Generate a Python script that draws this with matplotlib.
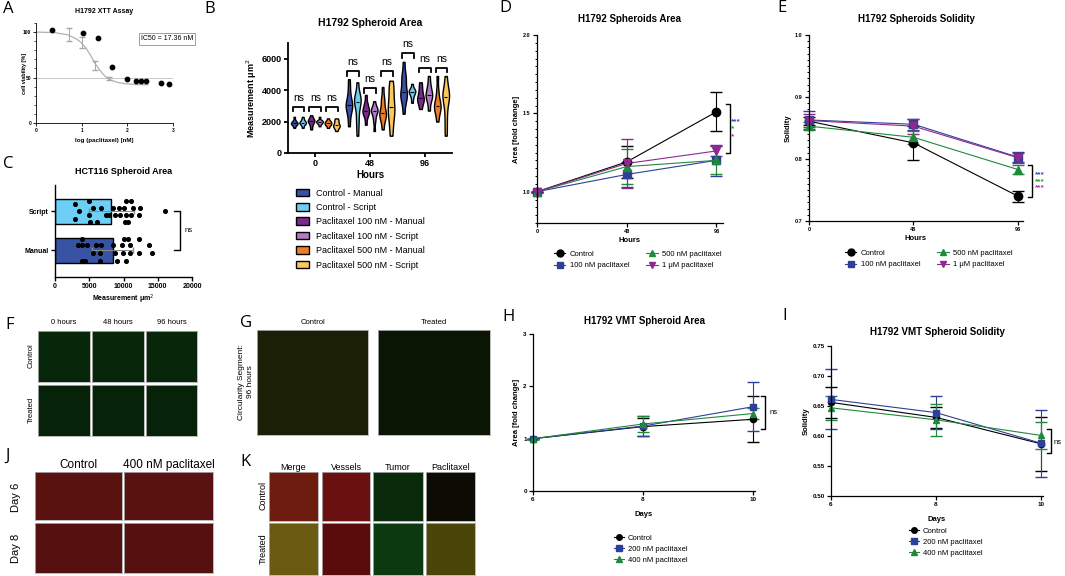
import matplotlib
matplotlib.use("Agg")
import matplotlib.pyplot as plt
from matplotlib.lines import Line2D
from matplotlib.patches import Patch
from matplotlib.ticker import MultipleLocator

plt.rcParams['font.family'] = ['Liberation Sans', 'DejaVu Sans']

# ---------------- data ----------------
# A: XTT assay
a_x = [0.34, 1.04, 1.35, 1.67, 1.99, 2.18, 2.31, 2.41, 2.74, 2.92]
a_y = [102.6, 98.9, 93, 61.3, 48.3, 46.1, 46.1, 46.1, 43.5, 42.4]
a_err_x = [0.72, 1.0, 1.3, 1.6]
a_err_y = [97, 89, 63, 49]
a_err_e = [7, 6, 5, 2]
a_fit_x = [0, 0.4, 0.7, 0.9, 1.0, 1.1, 1.2, 1.3, 1.4, 1.5, 1.6, 1.7, 1.8, 2.0, 2.2, 2.45]
a_fit_y = [100, 99.5, 97, 92, 88, 82, 74, 65, 58, 52, 48, 46, 44.5, 43, 42.3, 42]

# B: spheroid area violins (um^2)
b_labels = ["Control - Manual", "Control - Script", "Paclitaxel 100 nM - Manual",
            "Paclitaxel 100 nM - Script", "Paclitaxel 500 nM - Manual",
            "Paclitaxel 500 nM - Script"]
b_colors = ["#3b4fa6", "#6fcdf0", "#7a2b8b", "#b07cc8", "#f07d22", "#f8c85c"]
b_hours = [0, 48, 96]
b_0h = [
    [1600, 1750, 1800, 1850, 1900, 1900, 1950, 2000, 2100, 2300],
    [1600, 1750, 1850, 1900, 1900, 1950, 2000, 2050, 2150, 2300],
    [1500, 1700, 1850, 1950, 2000, 2050, 2100, 2150, 2250, 2400],
    [1700, 1850, 1900, 1950, 2000, 2000, 2050, 2100, 2300],
    [1600, 1750, 1800, 1850, 1900, 1950, 2000, 2050, 2200],
    [1400, 1550, 1650, 1700, 1750, 1800, 1900, 2000, 2100, 2200],
]
b_48h = [
    [1700, 2300, 2700, 2900, 3000, 3100, 3300, 3600, 4100, 4700],
    [1100, 1800, 2300, 2800, 3200, 3300, 3400, 3500, 3800, 4500],
    [1800, 2300, 2500, 2600, 2700, 2800, 3000, 3200, 3700],
    [1400, 2000, 2300, 2600, 2700, 2700, 2800, 2900, 3300],
    [1500, 2000, 2300, 2400, 2500, 2600, 2900, 3300, 3500, 4200],
    [1100, 1700, 2200, 2500, 2800, 3000, 3400, 3800, 4200, 4600],
]
b_96h = [
    [2500, 3200, 3500, 3700, 3800, 4000, 4500, 4800, 5000, 5800],
    [3200, 3500, 3700, 3800, 3900, 3950, 4000, 4100, 4400],
    [2800, 3100, 3300, 3400, 3500, 3700, 3900, 4200, 4500],
    [2700, 3200, 3500, 3600, 3700, 3900, 4100, 4400, 4900],
    [2000, 2500, 2800, 2900, 3000, 3200, 3500, 4000, 4900],
    [1100, 1800, 2500, 3100, 3500, 3600, 3700, 3900, 4300, 4900],
]
b_bracket = [[2950, 2950, 2950], [5220, 4130, 5220], [6340, 5430, 5430]]

# C: HCT116 spheroid area
c_cats = ["Manual", "Script"]
c_means = [8400, 8200]
c_sd = [3000, 3300]
c_colors = ["#3953a4", "#6dcff6"]
c_script_x = [2900, 4900, 3500, 2900, 5000, 5600, 6700, 6200, 5100, 7400, 7900, 8500, 9400,
              8800, 10400, 11100, 10100, 11400, 12400, 9500, 10400, 11100, 12200, 10200,
              10700, 16100]
c_script_dy = [0.19, 0.27, 0.0, -0.19, -0.11, 0.09, 0.09, -0.28, -0.28, -0.11, -0.11, 0.09,
               0.09, -0.11, 0.27, 0.27, 0.09, 0.09, 0.09, -0.11, -0.11, -0.11, -0.11, -0.29,
               -0.29, 0.0]
c_manual_x = [4000, 10000, 10700, 12200, 3300, 3900, 4700, 6000, 6700, 8500, 9800, 10900,
              13700, 5500, 6500, 8800, 9900, 10900, 12200, 14100, 4000, 4400, 6600, 9000,
              10400]
c_manual_dy = [0.28, 0.28, 0.28, 0.28, 0.13, 0.13, 0.13, 0.13, 0.13, 0.13, 0.13, 0.13, 0.13,
               -0.08, -0.08, -0.08, -0.08, -0.08, -0.08, -0.08, -0.28, -0.28, -0.28, -0.28,
               -0.28]

# D: H1792 spheroids area (fold change)
d_hours = [0, 48, 96]
d_ctrl = [1.0, 1.19, 1.51]
d_ctrl_err = [0, 0.10, 0.125]
d_100 = [1.0, 1.11, 1.20]
d_100_err = [0, 0.08, 0.10]
d_500 = [1.0, 1.16, 1.20]
d_500_err = [0, 0.11, 0.09]
d_1u = [1.0, 1.18, 1.26]
d_1u_err = [0, 0.155, 0.03]

# E: H1792 spheroids solidity
e_ctrl = [0.861, 0.826, 0.740]
e_ctrl_err = [0.006, 0.028, 0.009]
e_100 = [0.863, 0.856, 0.803]
e_100_err = [0.014, 0.009, 0.008]
e_500 = [0.853, 0.835, 0.783]
e_500_err = [0.006, 0.01, 0.007]
e_1u = [0.862, 0.853, 0.802]
e_1u_err = [0.01, 0.012, 0.008]

# H: VMT area
h_days = [6, 8, 10]
h_ctrl = [1.0, 1.23, 1.37]
h_ctrl_err = [0, 0.17, 0.44]
h_200 = [1.0, 1.24, 1.61]
h_200_err = [0, 0.19, 0.47]
h_400 = [1.0, 1.28, 1.48]
h_400_err = [0, 0.15, 0.1]

# I: VMT solidity
i_ctrl = [0.656, 0.631, 0.587]
i_ctrl_err = [0.026, 0.017, 0.045]
i_200 = [0.661, 0.639, 0.588]
i_200_err = [0.05, 0.027, 0.056]
i_400 = [0.647, 0.627, 0.601]
i_400_err = [0.02, 0.027, 0.022]

BLUE = "#2e3f99"
GREEN = "#1f8a3c"
PURPLE = "#8e2a8e"

W, H = 1065, 576
fig = plt.figure(figsize=(W / 100, H / 100), dpi=100)


def px_axes(l, t, r, b):
    return fig.add_axes([l / W, 1 - b / H, (r - l) / W, (b - t) / H])


def fx(x):
    return x / W


def fy(y):
    return 1 - y / H


def letter(x, y, s):
    fig.text(fx(x), fy(y), s, fontsize=12, family='Open Sans', va='center', ha='left')


def prism(ax, lw=1.2, ts=5):
    for s in ['top', 'right']:
        ax.spines[s].set_visible(False)
    for s in ['left', 'bottom']:
        ax.spines[s].set_linewidth(lw)
    ax.tick_params(width=lw, length=3, labelsize=ts, pad=1.5)
    ax.tick_params(which='minor', width=lw * 0.8, length=1.8)
    for lab in ax.get_xticklabels() + ax.get_yticklabels():
        lab.set_fontweight('bold')


# ---------------- A ----------------
letter(3, 9, "A")
ax = px_axes(36, 23, 173, 123)
ax.axhline(50, color="#c8c8c8", lw=0.7)
ax.plot(a_fit_x, a_fit_y, color="#b0b0b0", lw=0.9)
ax.errorbar(a_err_x, a_err_y, yerr=a_err_e, fmt='none', ecolor="#a8a8a8", capsize=2, lw=0.7)
ax.scatter(a_x, a_y, s=10, color='black', zorder=3, clip_on=False)
ax.set_xlim(0, 3)
ax.set_ylim(0, 110)
ax.set_xticks([0, 1, 2, 3])
ax.set_yticks([0, 50, 100])
ax.yaxis.set_minor_locator(MultipleLocator(10))
prism(ax, lw=0.6, ts=3.5)
ax.tick_params(length=2)
ax.set_title("H1792 XTT Assay", fontsize=5, fontweight='bold', pad=7)
ax.set_xlabel("log (paclitaxel) [nM]", fontsize=4.5, fontweight='bold', labelpad=4)
ax.set_ylabel("cell viability [%]", fontsize=4, fontweight='bold', labelpad=-3)
fig.text(fx(167), fy(39), "IC50 = 17.36 nM", fontsize=5, ha='center', va='center',
         bbox=dict(boxstyle='square,pad=0.3', fc='white', ec='#909090', lw=0.6))

# ---------------- B ----------------
letter(204, 9, "B")
ax = px_axes(288, 43, 452, 153)
offsets = [-18.5, -11.1, -3.7, 3.7, 11.1, 18.5]
for hi, groups in zip(b_hours, [b_0h, b_48h, b_96h]):
    pos = [hi + o for o in offsets]
    vp = ax.violinplot(groups, positions=pos, widths=5.8, showextrema=False,
                       showmedians=True, bw_method=0.4)
    for body, col in zip(vp['bodies'], b_colors):
        body.set_facecolor(col)
        body.set_edgecolor('black')
        body.set_linewidth(1.0)
        body.set_alpha(1)
    vp['cmedians'].set_color('black')
    vp['cmedians'].set_linewidth(0.8)
for hi, tops in zip(b_hours, b_bracket):
    for k, top in enumerate(tops):
        x1 = hi + offsets[2 * k] - 1.5
        x2 = hi + offsets[2 * k + 1] + 1.5
        ax.plot([x1, x1, x2, x2], [top - 300, top, top, top - 300], color='black', lw=1.3,
                clip_on=False)
        ax.text((x1 + x2) / 2, top + 250, "ns", ha='center', va='bottom', fontsize=7.5,
                clip_on=False)
ax.set_xlim(-24, 120)
ax.set_ylim(0, 7000)
ax.set_xticks(b_hours)
ax.set_yticks([0, 2000, 4000, 6000])
prism(ax, lw=1.3, ts=6.5)
ax.set_title("H1792 Spheroid Area", fontsize=7.5, fontweight='bold', pad=12)
ax.set_xlabel("Hours", fontsize=7, fontweight='bold', labelpad=1)
ax.set_ylabel("Measurement μm$^2$", fontsize=6.5, fontweight='bold', labelpad=2)
handles = [Patch(facecolor=c, edgecolor='black', lw=1.0) for c in b_colors]
ax.legend(handles, b_labels, loc='upper left', bbox_to_anchor=(fx(291), fy(184)),
          bbox_transform=fig.transFigure, frameon=False, fontsize=6.5, handlelength=1.5,
          handleheight=0.9, labelspacing=0.6, borderpad=0, handletextpad=0.8)

# ---------------- C ----------------
letter(3, 164, "C")
ax = px_axes(55, 185, 192, 277)
ax.barh([0, 1], c_means, height=0.64, color=c_colors, edgecolor='black', lw=1.0)
ax.errorbar(c_means, [0, 1], xerr=c_sd, fmt='none', ecolor='#8a8a8a', capsize=2, lw=0.7)
ax.scatter(c_script_x, [1 + d for d in c_script_dy], s=7, color='black', zorder=3,
           clip_on=False)
ax.scatter(c_manual_x, [0 + d for d in c_manual_dy], s=7, color='black', zorder=3,
           clip_on=False)
ax.plot([17300, 18300, 18300, 17300], [1, 1, 0, 0], color='black', lw=1.0, clip_on=False)
ax.text(18900, 0.5, "ns", fontsize=5.5, va='center', ha='left')
ax.set_xlim(0, 20000)
ax.set_ylim(-0.69, 1.67)
ax.set_yticks([0, 1])
ax.set_yticklabels(c_cats)
ax.set_xticks([0, 5000, 10000, 15000, 20000])
prism(ax, lw=1.0, ts=5)
ax.set_title("HCT116 Spheroid Area", fontsize=6.5, fontweight='bold', pad=8)
ax.set_xlabel("Measurement μm$^2$", fontsize=5, fontweight='bold', labelpad=2)

# ---------------- D ----------------
letter(499, 8, "D")
ax = px_axes(537, 35, 723, 223)
for y, e, col, mk in [(d_ctrl, d_ctrl_err, 'black', 'o'), (d_100, d_100_err, BLUE, 's'),
                      (d_500, d_500_err, GREEN, '^'), (d_1u, d_1u_err, PURPLE, 'v')]:
    ax.errorbar(d_hours, y, yerr=e, color=col, marker=mk, ms=6, lw=0.8, capsize=4,
                elinewidth=0.8, clip_on=False)
ax.plot([101, 103, 103, 101], [1.56, 1.56, 1.25, 1.25], color='black', lw=1.0, clip_on=False)
ax.text(104, 1.445, "***", color="#3a4fc0", fontsize=6, fontweight='bold', va='center')
ax.text(104, 1.40, "*", color="#22a045", fontsize=6, fontweight='bold', va='center')
ax.text(104, 1.35, "*", color="#a040b0", fontsize=6, fontweight='bold', va='center')
ax.set_xlim(0, 99.5)
ax.set_ylim(0.8, 2.0)
ax.set_xticks(d_hours)
ax.set_yticks([1.0, 1.5, 2.0])
ax.yaxis.set_minor_locator(MultipleLocator(0.05))
prism(ax, lw=0.9, ts=4)
ax.set_title("H1792 Spheroids Area", fontsize=7, fontweight='bold', pad=9)
ax.set_xlabel("Hours", fontsize=5.5, fontweight='bold', labelpad=2)
ax.set_ylabel("Area [fold change]", fontsize=5.5, fontweight='bold', labelpad=2)
dh = [Line2D([], [], color=c, marker=m, ms=5, lw=0.8) for c, m in
      [('black', 'o'), (BLUE, 's'), (GREEN, '^'), (PURPLE, 'v')]]
ax.legend(dh, ["Control", "100 nM paclitaxel", "500 nM paclitaxel", "1 μM paclitaxel"],
          ncol=2, loc='upper left', bbox_to_anchor=(fx(550), fy(247)),
          bbox_transform=fig.transFigure, frameon=False, fontsize=5.5, handlelength=1.5,
          borderpad=0, labelspacing=0.5, columnspacing=2.2, handletextpad=0.6)

# ---------------- E ----------------
letter(777, 8, "E")
ax = px_axes(809, 35, 1023, 221)
for y, e, col, mk in [(e_ctrl, e_ctrl_err, 'black', 'o'), (e_100, e_100_err, BLUE, 's'),
                      (e_500, e_500_err, GREEN, '^'), (e_1u, e_1u_err, PURPLE, 'v')]:
    ax.errorbar(d_hours, y, yerr=e, color=col, marker=mk, ms=6, lw=0.8, capsize=4,
                elinewidth=0.8, clip_on=False)
ax.plot([100.5, 102.5, 102.5, 100.5], [0.791, 0.791, 0.738, 0.738], color='black', lw=1.0,
        clip_on=False)
ax.text(104, 0.775, "***", color="#3a4fc0", fontsize=6, fontweight='bold', va='center')
ax.text(104, 0.764, "***", color="#22a045", fontsize=6, fontweight='bold', va='center')
ax.text(104, 0.753, "***", color="#a040b0", fontsize=6, fontweight='bold', va='center')
ax.set_xlim(0, 98.3)
ax.set_ylim(0.7, 1.0)
ax.set_xticks(d_hours)
ax.set_yticks([0.7, 0.8, 0.9, 1.0])
ax.yaxis.set_minor_locator(MultipleLocator(0.01))
prism(ax, lw=0.9, ts=4)
ax.set_title("H1792 Spheroids Solidity", fontsize=7, fontweight='bold', pad=9)
ax.set_xlabel("Hours", fontsize=5.5, fontweight='bold', labelpad=2)
ax.set_ylabel("Solidity", fontsize=5.5, fontweight='bold', labelpad=2)
ax.legend(dh, ["Control", "100 nM paclitaxel", "500 nM paclitaxel", "1 μM paclitaxel"],
          ncol=2, loc='upper left', bbox_to_anchor=(fx(841), fy(246)),
          bbox_transform=fig.transFigure, frameon=False, fontsize=5.5, handlelength=1.5,
          borderpad=0, labelspacing=0.5, columnspacing=2.2, handletextpad=0.6)

# ---------------- H ----------------
letter(502, 317, "H")
ax = px_axes(533, 334, 755, 491)
for y, e, col, mk in [(h_ctrl, h_ctrl_err, 'black', 'o'), (h_200, h_200_err, BLUE, 's'),
                      (h_400, h_400_err, GREEN, '^')]:
    ax.errorbar(h_days, y, yerr=e, color=col, marker=mk, ms=4.5, lw=0.8, capsize=4,
                elinewidth=0.8, clip_on=False)
ax.plot([10.15, 10.22, 10.22, 10.15], [1.81, 1.81, 1.18, 1.18], color='black', lw=1.0,
        clip_on=False)
ax.text(10.3, 1.5, "ns", fontsize=5.5, va='center')
ax.set_xlim(6, 10.04)
ax.set_ylim(0, 3)
ax.set_xticks(h_days)
ax.set_yticks([0, 1, 2, 3])
prism(ax, lw=0.9, ts=4.5)
ax.set_title("H1792 VMT Spheroid Area", fontsize=7, fontweight='bold', pad=7)
ax.set_xlabel("Days", fontsize=5.5, fontweight='bold', labelpad=6)
ax.set_ylabel("Area [fold change]", fontsize=5.5, fontweight='bold', labelpad=2)
hh = [Line2D([], [], color=c, marker=m, ms=4, lw=0.8) for c, m in
      [('black', 'o'), (BLUE, 's'), (GREEN, '^')]]
ax.legend(hh, ["Control", "200 nM paclitaxel", "400 nM paclitaxel"], loc='upper left',
          bbox_to_anchor=(fx(610), fy(531)), bbox_transform=fig.transFigure, frameon=False,
          fontsize=5.5, handlelength=1.3, borderpad=0, labelspacing=0.45, handletextpad=0.5)

# ---------------- I ----------------
letter(782, 316, "I")
ax = px_axes(831, 346, 1043, 496)
for y, e, col, mk in [(i_ctrl, i_ctrl_err, 'black', 'o'), (i_200, i_200_err, BLUE, 's'),
                      (i_400, i_400_err, GREEN, '^')]:
    ax.errorbar(h_days, y, yerr=e, color=col, marker=mk, ms=4.5, lw=0.8, capsize=4,
                elinewidth=0.8, clip_on=False)
ax.plot([10.12, 10.2, 10.2, 10.12], [0.612, 0.612, 0.571, 0.571], color='black', lw=1.0,
        clip_on=False)
ax.text(10.24, 0.59, "ns", fontsize=5.5, va='center')
ax.set_xlim(6, 10.04)
ax.set_ylim(0.5, 0.75)
ax.set_xticks(h_days)
ax.set_yticks([0.5, 0.55, 0.6, 0.65, 0.7, 0.75])
prism(ax, lw=0.9, ts=4.5)
ax.set_title("H1792 VMT Spheroid Solidity", fontsize=7, fontweight='bold', pad=8)
ax.set_xlabel("Days", fontsize=5.5, fontweight='bold', labelpad=6)
ax.set_ylabel("Solidity", fontsize=5.5, fontweight='bold', labelpad=2)
ax.legend(hh, ["Control", "200 nM paclitaxel", "400 nM paclitaxel"], loc='upper left',
          bbox_to_anchor=(fx(905), fy(524)), bbox_transform=fig.transFigure, frameon=False,
          fontsize=5.5, handlelength=1.3, borderpad=0, labelspacing=0.45, handletextpad=0.5)


# ---------------- image panels (F, G, J, K) ----------------
def tile(l, t, r, b, col):
    a = px_axes(l, t, r, b)
    a.set_facecolor(col)
    a.set_xticks([])
    a.set_yticks([])
    for s in a.spines.values():
        s.set_color('#b0b0b0')
        s.set_linewidth(0.6)
    return a


letter(5, 325, "F")
f_cols = [(38, 90), (92, 144), (146, 197)]
for (l, r), name in zip(f_cols, ["0 hours", "48 hours", "96 hours"]):
    fig.text(fx((l + r) / 2), fy(323), name, fontsize=5.5, ha='center', va='center')
    tile(l, 331, r, 382, "#07260a")
    tile(l, 385, r, 436, "#062208")
fig.text(fx(31), fy(356), "Control", fontsize=5.5, rotation=90, ha='center', va='center')
fig.text(fx(31), fy(410), "Treated", fontsize=5.5, rotation=90, ha='center', va='center')

letter(240, 323, "G")
fig.text(fx(313), fy(323), "Control", fontsize=5.5, ha='center', va='center')
fig.text(fx(434), fy(323), "Treated", fontsize=5.5, ha='center', va='center')
tile(257, 330, 368, 435, "#1a1f06")
tile(378, 330, 490, 435, "#0b1504")
fig.text(fx(246), fy(382), "Circularity Segment:\n96 hours", fontsize=6, rotation=90,
         ha='center', va='center', linespacing=1.3)

letter(5, 456, "J")
j_cols = [(35, 122), (124, 213)]
for (l, r), name in zip(j_cols, ["Control", "400 nM paclitaxel"]):
    fig.text(fx((l + r) / 2), fy(465), name, fontsize=8.5, ha='center', va='center')
    tile(l, 472, r, 520, "#5a1210")
    tile(l, 523, r, 573, "#541110")
fig.text(fx(16), fy(497), "Day 6", fontsize=8, rotation=90, ha='center', va='center')
fig.text(fx(16), fy(548), "Day 8", fontsize=8, rotation=90, ha='center', va='center')

letter(240, 462, "K")
k_cols = [(269, 318), (322, 370), (373, 423), (426, 475)]
k_names = ["Merge", "Vessels", "Tumor", "Paclitaxel"]
k_top = ["#6e1c10", "#6a1010", "#0a2a0c", "#0c0c04"]
k_bot = ["#6a5a12", "#5a0c0c", "#0b3a10", "#4a4608"]
for (l, r), name, c1, c2 in zip(k_cols, k_names, k_top, k_bot):
    fig.text(fx((l + r) / 2), fy(467), name, fontsize=6.5, ha='center', va='center')
    tile(l, 472, r, 521, c1)
    tile(l, 523, r, 575, c2)
fig.text(fx(263), fy(496), "Control", fontsize=6.5, rotation=90, ha='center', va='center')
fig.text(fx(263), fy(549), "Treated", fontsize=6.5, rotation=90, ha='center', va='center')

fig.savefig("out.png", dpi=100)
